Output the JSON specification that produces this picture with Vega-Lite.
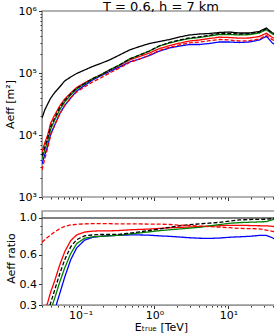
{
"$schema": "https://vega.github.io/schema/vega-lite/v6.json",
"background": "white",
"padding": {"left": 3, "top": 0, "right": 0, "bottom": 0},
"bounds": "flush",
"spacing": 14,
"config": {
 "font": "DejaVu Sans",
 "view": {"stroke": "#999", "strokeWidth": 1.5},
 "axis": {"labelFontSize": 11, "titleFontSize": 11, "titleFontWeight": "normal", "labelColor": "#000", "titleColor": "#000", "domainColor": "#999", "tickColor": "#333", "grid": false, "labelPadding": 2, "titlePadding": 3}
},
"datasets": {
 "top": [
{"s":"ref","E":0.03,"A":18800},{"s":"ref","E":0.0327,"A":25300},{"s":"ref","E":0.0358,"A":31600},{"s":"ref","E":0.0394,"A":39500},{"s":"ref","E":0.0446,"A":48400},{"s":"ref","E":0.052,"A":59400},{"s":"ref","E":0.0608,"A":74300},{"s":"ref","E":0.0733,"A":86100},{"s":"ref","E":0.0883,"A":98200},{"s":"ref","E":0.113,"A":111700},{"s":"ref","E":0.145,"A":127400},{"s":"ref","E":0.186,"A":142200},{"s":"ref","E":0.246,"A":162200},{"s":"ref","E":0.336,"A":195000},{"s":"ref","E":0.459,"A":235000},{"s":"ref","E":0.627,"A":267300},{"s":"ref","E":0.855,"A":299200},{"s":"ref","E":1.17,"A":322100},{"s":"ref","E":1.6,"A":346700},{"s":"ref","E":2.18,"A":381100},{"s":"ref","E":2.97,"A":410200},{"s":"ref","E":4.06,"A":425600},{"s":"ref","E":5.53,"A":433500},{"s":"ref","E":7.55,"A":449800},{"s":"ref","E":10.3,"A":458100},{"s":"ref","E":14.1,"A":441600},{"s":"ref","E":19.2,"A":441600},{"s":"ref","E":26.2,"A":466700},{"s":"ref","E":32.7,"A":532100},{"s":"ref","E":39.4,"A":441600},{"s":"ref","E":47.4,"A":417800},
{"s":"blue","E":0.03,"A":3410},{"s":"blue","E":0.0327,"A":4760},{"s":"blue","E":0.0358,"A":6650},{"s":"blue","E":0.0394,"A":10390},{"s":"blue","E":0.0446,"A":14510},{"s":"blue","E":0.052,"A":21810},{"s":"blue","E":0.0608,"A":29890},{"s":"blue","E":0.0733,"A":39480},{"s":"blue","E":0.0883,"A":51230},{"s":"blue","E":0.113,"A":62940},{"s":"blue","E":0.145,"A":77080},{"s":"blue","E":0.186,"A":89510},{"s":"blue","E":0.246,"A":105700},{"s":"blue","E":0.336,"A":124900},{"s":"blue","E":0.459,"A":150500},{"s":"blue","E":0.627,"A":168100},{"s":"blue","E":0.855,"A":191600},{"s":"blue","E":1.17,"A":226300},{"s":"blue","E":1.6,"A":253300},{"s":"blue","E":2.18,"A":272400},{"s":"blue","E":2.97,"A":287800},{"s":"blue","E":4.06,"A":288300},{"s":"blue","E":5.53,"A":299300},{"s":"blue","E":7.55,"A":316300},{"s":"blue","E":10.3,"A":316300},{"s":"blue","E":14.1,"A":310500},{"s":"blue","E":19.2,"A":316600},{"s":"blue","E":26.2,"A":340500},{"s":"blue","E":32.7,"A":390600},{"s":"blue","E":39.4,"A":304700},{"s":"blue","E":47.4,"A":269700},
{"s":"red","E":0.03,"A":5320},{"s":"red","E":0.0327,"A":7430},{"s":"red","E":0.0358,"A":9990},{"s":"red","E":0.0394,"A":15610},{"s":"red","E":0.0446,"A":21020},{"s":"red","E":0.052,"A":29350},{"s":"red","E":0.0608,"A":38060},{"s":"red","E":0.0733,"A":47560},{"s":"red","E":0.0883,"A":58360},{"s":"red","E":0.113,"A":69060},{"s":"red","E":0.145,"A":81520},{"s":"red","E":0.186,"A":92900},{"s":"red","E":0.246,"A":111700},{"s":"red","E":0.336,"A":132200},{"s":"red","E":0.459,"A":162200},{"s":"red","E":0.627,"A":184500},{"s":"red","E":0.855,"A":210200},{"s":"red","E":1.17,"A":248100},{"s":"red","E":1.6,"A":275800},{"s":"red","E":2.18,"A":302500},{"s":"red","E":2.97,"A":327700},{"s":"red","E":4.06,"A":340600},{"s":"red","E":5.53,"A":360200},{"s":"red","E":7.55,"A":378100},{"s":"red","E":10.3,"A":373500},{"s":"red","E":14.1,"A":364300},{"s":"red","E":19.2,"A":367300},{"s":"red","E":26.2,"A":387700},{"s":"red","E":32.7,"A":438000},{"s":"red","E":39.4,"A":373700},{"s":"red","E":47.4,"A":343200},
{"s":"green","E":0.03,"A":4100},{"s":"green","E":0.0327,"A":5730},{"s":"green","E":0.0358,"A":8000},{"s":"green","E":0.0394,"A":12500},{"s":"green","E":0.0446,"A":17460},{"s":"green","E":0.052,"A":25300},{"s":"green","E":0.0608,"A":34040},{"s":"green","E":0.0733,"A":44160},{"s":"green","E":0.0883,"A":55210},{"s":"green","E":0.113,"A":66530},{"s":"green","E":0.145,"A":80000},{"s":"green","E":0.186,"A":92900},{"s":"green","E":0.246,"A":111700},{"s":"green","E":0.336,"A":134600},{"s":"green","E":0.459,"A":168300},{"s":"green","E":0.627,"A":195000},{"s":"green","E":0.855,"A":226500},{"s":"green","E":1.17,"A":272300},{"s":"green","E":1.6,"A":304800},{"s":"green","E":2.18,"A":334200},{"s":"green","E":2.97,"A":359700},{"s":"green","E":4.06,"A":373900},{"s":"green","E":5.53,"A":395400},{"s":"green","E":7.55,"A":417800},{"s":"green","E":10.3,"A":417800},{"s":"green","E":14.1,"A":410200},{"s":"green","E":19.2,"A":415000},{"s":"green","E":26.2,"A":441600},{"s":"green","E":32.7,"A":498900},{"s":"green","E":39.4,"A":425600},{"s":"green","E":47.4,"A":390900},
{"s":"bd","E":0.03,"A":4580},{"s":"bd","E":0.0327,"A":6410},{"s":"bd","E":0.0358,"A":8940},{"s":"bd","E":0.0394,"A":13710},{"s":"bd","E":0.0446,"A":18800},{"s":"bd","E":0.052,"A":27250},{"s":"bd","E":0.0608,"A":35980},{"s":"bd","E":0.0733,"A":45840},{"s":"bd","E":0.0883,"A":56650},{"s":"bd","E":0.113,"A":67790},{"s":"bd","E":0.145,"A":80880},{"s":"bd","E":0.186,"A":92900},{"s":"bd","E":0.246,"A":111700},{"s":"bd","E":0.336,"A":134600},{"s":"bd","E":0.459,"A":168300},{"s":"bd","E":0.627,"A":195000},{"s":"bd","E":0.855,"A":226500},{"s":"bd","E":1.17,"A":275300},{"s":"bd","E":1.6,"A":310600},{"s":"bd","E":2.18,"A":340600},{"s":"bd","E":2.97,"A":369100},{"s":"bd","E":4.06,"A":383600},{"s":"bd","E":5.53,"A":405700},{"s":"bd","E":7.55,"A":433700},{"s":"bd","E":10.3,"A":433700},{"s":"bd","E":14.1,"A":425800},{"s":"bd","E":19.2,"A":430800},{"s":"bd","E":26.2,"A":458400},{"s":"bd","E":32.7,"A":517900},{"s":"bd","E":39.4,"A":441800},{"s":"bd","E":47.4,"A":405800},
{"s":"rd","E":0.03,"A":2730},{"s":"rd","E":0.0327,"A":4100},{"s":"rd","E":0.0358,"A":6170},{"s":"rd","E":0.0394,"A":10000},{"s":"rd","E":0.0446,"A":14510},{"s":"rd","E":0.052,"A":21810},{"s":"rd","E":0.0608,"A":29890},{"s":"rd","E":0.0733,"A":39480},{"s":"rd","E":0.0883,"A":49360},{"s":"rd","E":0.113,"A":59480},{"s":"rd","E":0.145,"A":71520},{"s":"rd","E":0.186,"A":83050},{"s":"rd","E":0.246,"A":99860},{"s":"rd","E":0.336,"A":120300},{"s":"rd","E":0.459,"A":147800},{"s":"rd","E":0.627,"A":168100},{"s":"rd","E":0.855,"A":195200},{"s":"rd","E":1.17,"A":232000},{"s":"rd","E":1.6,"A":258800},{"s":"rd","E":2.18,"A":283700},{"s":"rd","E":2.97,"A":305400},{"s":"rd","E":4.06,"A":316300},{"s":"rd","E":5.53,"A":332100},{"s":"rd","E":7.55,"A":347200},{"s":"rd","E":10.3,"A":340500},{"s":"rd","E":14.1,"A":328200},{"s":"rd","E":19.2,"A":332000},{"s":"rd","E":26.2,"A":353300},{"s":"rd","E":32.7,"A":405100},{"s":"rd","E":39.4,"A":344300},{"s":"rd","E":47.4,"A":316200}
 ],
 "ratio": [
{"s":"blue","E":0.03,"r":0.15},{"s":"blue","E":0.0327,"r":0.17},{"s":"blue","E":0.0358,"r":0.195},{"s":"blue","E":0.0394,"r":0.225},{"s":"blue","E":0.0446,"r":0.28},{"s":"blue","E":0.052,"r":0.35},{"s":"blue","E":0.0608,"r":0.44},{"s":"blue","E":0.0733,"r":0.56},{"s":"blue","E":0.0883,"r":0.66},{"s":"blue","E":0.113,"r":0.735},{"s":"blue","E":0.145,"r":0.765},{"s":"blue","E":0.186,"r":0.775},{"s":"blue","E":0.246,"r":0.782},{"s":"blue","E":0.336,"r":0.787},{"s":"blue","E":0.459,"r":0.79},{"s":"blue","E":0.627,"r":0.79},{"s":"blue","E":0.855,"r":0.787},{"s":"blue","E":1.17,"r":0.78},{"s":"blue","E":1.6,"r":0.775},{"s":"blue","E":2.18,"r":0.768},{"s":"blue","E":2.97,"r":0.76},{"s":"blue","E":4.06,"r":0.755},{"s":"blue","E":5.53,"r":0.753},{"s":"blue","E":7.55,"r":0.757},{"s":"blue","E":10.3,"r":0.765},{"s":"blue","E":14.1,"r":0.77},{"s":"blue","E":19.2,"r":0.775},{"s":"blue","E":26.2,"r":0.785},{"s":"blue","E":32.7,"r":0.785},{"s":"blue","E":39.4,"r":0.76},{"s":"blue","E":47.4,"r":0.725},
{"s":"red","E":0.03,"r":0.24},{"s":"red","E":0.0327,"r":0.275},{"s":"red","E":0.0358,"r":0.31},{"s":"red","E":0.0394,"r":0.36},{"s":"red","E":0.0446,"r":0.42},{"s":"red","E":0.052,"r":0.52},{"s":"red","E":0.0608,"r":0.625},{"s":"red","E":0.0733,"r":0.73},{"s":"red","E":0.0883,"r":0.79},{"s":"red","E":0.113,"r":0.822},{"s":"red","E":0.145,"r":0.833},{"s":"red","E":0.186,"r":0.836},{"s":"red","E":0.246,"r":0.836},{"s":"red","E":0.336,"r":0.84},{"s":"red","E":0.459,"r":0.848},{"s":"red","E":0.627,"r":0.853},{"s":"red","E":0.855,"r":0.857},{"s":"red","E":1.17,"r":0.865},{"s":"red","E":1.6,"r":0.872},{"s":"red","E":2.18,"r":0.877},{"s":"red","E":2.97,"r":0.882},{"s":"red","E":4.06,"r":0.887},{"s":"red","E":5.53,"r":0.892},{"s":"red","E":7.55,"r":0.897},{"s":"red","E":10.3,"r":0.903},{"s":"red","E":14.1,"r":0.903},{"s":"red","E":19.2,"r":0.9},{"s":"red","E":26.2,"r":0.897},{"s":"red","E":32.7,"r":0.896},{"s":"red","E":39.4,"r":0.89},{"s":"red","E":47.4,"r":0.882},
{"s":"green","E":0.03,"r":0.18},{"s":"green","E":0.0327,"r":0.205},{"s":"green","E":0.0358,"r":0.24},{"s":"green","E":0.0394,"r":0.28},{"s":"green","E":0.0446,"r":0.33},{"s":"green","E":0.052,"r":0.41},{"s":"green","E":0.0608,"r":0.5},{"s":"green","E":0.0733,"r":0.61},{"s":"green","E":0.0883,"r":0.7},{"s":"green","E":0.113,"r":0.755},{"s":"green","E":0.145,"r":0.77},{"s":"green","E":0.186,"r":0.775},{"s":"green","E":0.246,"r":0.78},{"s":"green","E":0.336,"r":0.787},{"s":"green","E":0.459,"r":0.8},{"s":"green","E":0.627,"r":0.812},{"s":"green","E":0.855,"r":0.825},{"s":"green","E":1.17,"r":0.838},{"s":"green","E":1.6,"r":0.848},{"s":"green","E":2.18,"r":0.858},{"s":"green","E":2.97,"r":0.868},{"s":"green","E":4.06,"r":0.878},{"s":"green","E":5.53,"r":0.895},{"s":"green","E":7.55,"r":0.912},{"s":"green","E":10.3,"r":0.928},{"s":"green","E":14.1,"r":0.937},{"s":"green","E":19.2,"r":0.942},{"s":"green","E":26.2,"r":0.946},{"s":"green","E":32.7,"r":0.95},{"s":"green","E":39.4,"r":0.975},{"s":"green","E":47.4,"r":0.99},
{"s":"bd","E":0.03,"r":0.2},{"s":"bd","E":0.0327,"r":0.23},{"s":"bd","E":0.0358,"r":0.27},{"s":"bd","E":0.0394,"r":0.31},{"s":"bd","E":0.0446,"r":0.37},{"s":"bd","E":0.052,"r":0.46},{"s":"bd","E":0.0608,"r":0.56},{"s":"bd","E":0.0733,"r":0.67},{"s":"bd","E":0.0883,"r":0.74},{"s":"bd","E":0.113,"r":0.78},{"s":"bd","E":0.145,"r":0.79},{"s":"bd","E":0.186,"r":0.795},{"s":"bd","E":0.246,"r":0.795},{"s":"bd","E":0.336,"r":0.797},{"s":"bd","E":0.459,"r":0.81},{"s":"bd","E":0.627,"r":0.825},{"s":"bd","E":0.855,"r":0.84},{"s":"bd","E":1.17,"r":0.858},{"s":"bd","E":1.6,"r":0.878},{"s":"bd","E":2.18,"r":0.897},{"s":"bd","E":2.97,"r":0.91},{"s":"bd","E":4.06,"r":0.92},{"s":"bd","E":5.53,"r":0.93},{"s":"bd","E":7.55,"r":0.94},{"s":"bd","E":10.3,"r":0.955},{"s":"bd","E":14.1,"r":0.973},{"s":"bd","E":19.2,"r":0.978},{"s":"bd","E":26.2,"r":0.98},{"s":"bd","E":32.7,"r":0.982},{"s":"bd","E":39.4,"r":0.99},{"s":"bd","E":47.4,"r":1.0},
{"s":"rd","E":0.03,"r":0.715},{"s":"rd","E":0.0327,"r":0.74},{"s":"rd","E":0.0358,"r":0.765},{"s":"rd","E":0.0394,"r":0.79},{"s":"rd","E":0.0446,"r":0.825},{"s":"rd","E":0.052,"r":0.86},{"s":"rd","E":0.0608,"r":0.89},{"s":"rd","E":0.0733,"r":0.907},{"s":"rd","E":0.0883,"r":0.915},{"s":"rd","E":0.113,"r":0.92},{"s":"rd","E":0.145,"r":0.924},{"s":"rd","E":0.186,"r":0.925},{"s":"rd","E":0.246,"r":0.923},{"s":"rd","E":0.336,"r":0.92},{"s":"rd","E":0.459,"r":0.92},{"s":"rd","E":0.627,"r":0.92},{"s":"rd","E":0.855,"r":0.918},{"s":"rd","E":1.17,"r":0.917},{"s":"rd","E":1.6,"r":0.913},{"s":"rd","E":2.18,"r":0.905},{"s":"rd","E":2.97,"r":0.9},{"s":"rd","E":4.06,"r":0.893},{"s":"rd","E":5.53,"r":0.887},{"s":"rd","E":7.55,"r":0.88},{"s":"rd","E":10.3,"r":0.873},{"s":"rd","E":14.1,"r":0.865},{"s":"rd","E":19.2,"r":0.862},{"s":"rd","E":26.2,"r":0.86},{"s":"rd","E":32.7,"r":0.845},{"s":"rd","E":39.4,"r":0.83},{"s":"rd","E":47.4,"r":0.825}
 ],
 "unity": [{"r": 1}]
},
"vconcat": [
 {
  "width": 238, "height": 186,
  "title": {"text": "T = 0.6, h = 7 km", "fontSize": 13, "fontWeight": "normal", "font": "DejaVu Sans", "offset": -9, "color": "#000"},
  "data": {"name": "top"},
  "mark": {"type": "line", "strokeWidth": 1.3, "clip": true},
  "encoding": {
   "x": {"field": "E", "type": "quantitative", "scale": {"type": "log", "domain": [0.03, 50], "nice": false},
         "axis": {"title": null, "labels": false, "domain": false, "tickSize": {"condition": {"test": "datum.value == 0.1 || datum.value == 1 || datum.value == 10", "value": 3.5}, "value": 2},
                  "values": [0.03,0.04,0.05,0.06,0.07,0.08,0.09,0.1,0.2,0.3,0.4,0.5,0.6,0.7,0.8,0.9,1,2,3,4,5,6,7,8,9,10,20,30,40,50]}},
   "y": {"field": "A", "type": "quantitative", "scale": {"type": "log", "domain": [1000, 1000000], "nice": false},
         "axis": {"title": "Aeff [m²]", "values": [1000,2000,3000,4000,5000,6000,7000,8000,9000,10000,20000,30000,40000,50000,60000,70000,80000,90000,100000,200000,300000,400000,500000,600000,700000,800000,900000,1000000],
                  "labelExpr": "datum.value == 1000 ? '10³' : datum.value == 10000 ? '10⁴' : datum.value == 100000 ? '10⁵' : datum.value == 1000000 ? '10⁶' : ''",
                  "tickSize": {"condition": {"test": "datum.value == 1000 || datum.value == 10000 || datum.value == 100000 || datum.value == 1000000", "value": 3.5}, "value": 2}}},
   "color": {"field": "s", "type": "nominal", "legend": null,
             "scale": {"domain": ["ref","blue","red","green","bd","rd"], "range": ["#000000","#0000ff","#ff0000","#008000","#000000","#ff0000"]}},
   "strokeDash": {"field": "s", "type": "nominal", "legend": null,
             "scale": {"domain": ["ref","blue","red","green","bd","rd"], "range": [[1,0],[1,0],[1,0],[1,0],[4,2],[4,2]]}}
  }
 },
 {
  "width": 238, "height": 94,
  "layer": [
   {
    "data": {"name": "unity"},
    "mark": {"type": "rule", "color": "#555", "strokeWidth": 1.5},
    "encoding": {"y": {"field": "r", "type": "quantitative"}}
   },
   {
    "data": {"name": "ratio"},
    "mark": {"type": "line", "strokeWidth": 1.3, "clip": true},
    "encoding": {
     "x": {"field": "E", "type": "quantitative", "scale": {"type": "log", "domain": [0.03, 50], "nice": false},
           "axis": {"title": "Eₜᵣᵤₑ [TeV]", "titlePadding": 1, "labelPadding": 1, "values": [0.03,0.04,0.05,0.06,0.07,0.08,0.09,0.1,0.2,0.3,0.4,0.5,0.6,0.7,0.8,0.9,1,2,3,4,5,6,7,8,9,10,20,30,40,50],
                    "labelExpr": "datum.value == 0.1 ? '10⁻¹' : datum.value == 1 ? '10⁰' : datum.value == 10 ? '10¹' : ''",
                    "tickSize": {"condition": {"test": "datum.value == 0.1 || datum.value == 1 || datum.value == 10", "value": 3.5}, "value": 2}}},
     "y": {"field": "r", "type": "quantitative", "scale": {"type": "log", "domain": [0.3, 1.1], "nice": false},
           "axis": {"title": "Aeff ratio", "values": [0.3,0.4,0.5,0.6,0.7,0.8,0.9,1],
                    "labelExpr": "datum.value == 0.3 || datum.value == 0.4 || datum.value == 0.6 || datum.value == 1 ? format(datum.value, '.1f') : ''",
                    "tickSize": {"condition": {"test": "datum.value == 0.3 || datum.value == 0.4 || datum.value == 0.6 || datum.value == 1", "value": 3.5}, "value": 2}}},
     "color": {"field": "s", "type": "nominal", "legend": null,
               "scale": {"domain": ["ref","blue","red","green","bd","rd"], "range": ["#000000","#0000ff","#ff0000","#008000","#000000","#ff0000"]}},
     "strokeDash": {"field": "s", "type": "nominal", "legend": null,
               "scale": {"domain": ["ref","blue","red","green","bd","rd"], "range": [[1,0],[1,0],[1,0],[1,0],[4,2],[4,2]]}}
    }
   }
  ]
 }
]
}
